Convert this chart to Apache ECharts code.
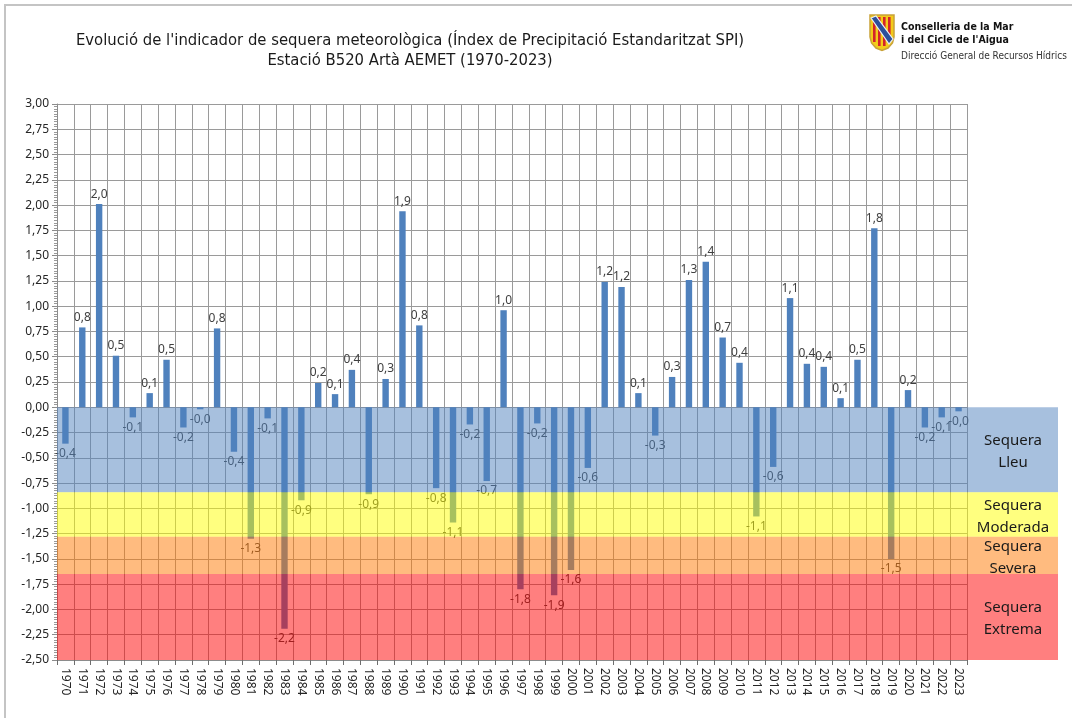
<!DOCTYPE html>
<html>
<head>
<meta charset="utf-8">
<script src="https://cdn.jsdelivr.net/npm/echarts@6/dist/echarts.min.js"></script>
<style>
html, body { margin: 0; padding: 0; background: #fff; }
#chart { width: 1072px; height: 718px; }
</style>
</head>
<body>
<div id="chart"></div>
<script>
// Estacio B520 Arta - SPI anual
var years = ['1970','1971','1972','1973','1974','1975','1976','1977','1978','1979',
  '1980','1981','1982','1983','1984','1985','1986','1987','1988','1989',
  '1990','1991','1992','1993','1994','1995','1996','1997','1998','1999',
  '2000','2001','2002','2003','2004','2005','2006','2007','2008','2009',
  '2010','2011','2012','2013','2014','2015','2016','2017','2018','2019',
  '2020','2021','2022','2023'];

var spi = [-0.36, 0.79, 2.01, 0.51, -0.10, 0.14, 0.47, -0.20, -0.02, 0.78,
  -0.44, -1.30, -0.11, -2.19, -0.92, 0.24, 0.13, 0.37, -0.86, 0.28,
  1.94, 0.81, -0.80, -1.14, -0.17, -0.73, 0.96, -1.80, -0.16, -1.86,
  -1.61, -0.60, 1.24, 1.19, 0.14, -0.28, 0.30, 1.26, 1.44, 0.69,
  0.44, -1.08, -0.59, 1.08, 0.43, 0.40, 0.09, 0.47, 1.77, -1.50,
  0.17, -0.20, -0.10, -0.04];

// llindars de sequera
var bandTop = [0, -0.84, -1.28, -1.65];
var bandBottom = [-0.84, -1.28, -1.65, -2.5];
var bandNames = ['Sequera\nLleu', 'Sequera\nModerada', 'Sequera\nSevera', 'Sequera\nExtrema'];

var bandFill = ['rgba(79,129,189,0.5)', 'rgba(255,255,0,0.5)', 'rgba(255,120,0,0.5)', 'rgba(255,0,0,0.5)'];
var font = "'Noto Sans', 'Open Sans', sans-serif";
var narrow = "'Liberation Sans Narrow', 'DejaVu Sans Condensed', sans-serif";

function fmt1(v) { return v.toFixed(1).replace('.', ','); }

var barData = spi.map(function (v) {
  return { value: v, label: { position: v < 0 ? 'bottom' : 'top' } };
});

var bandData = bandTop.map(function (t, i) { return [0, t, bandBottom[i]]; });

var chart = echarts.init(document.getElementById('chart'));
chart.setOption({
  animation: false,
  backgroundColor: '#fff',
  grid: { left: 57, right: 105, top: 104, bottom: 58 },
  xAxis: {
    type: 'category',
    data: years,
    axisLine: { onZero: false, lineStyle: { color: '#8c8c8c' } },
    axisTick: { show: true, interval: 0, length: 5, lineStyle: { color: '#6e6e6e' } },
    axisLabel: { interval: 0, rotate: -90, fontSize: 12, color: '#262626', fontFamily: font, margin: 8 },
    splitLine: { show: true, interval: 0, lineStyle: { color: '#9a9a9a', width: 1 } }
  },
  yAxis: {
    type: 'value',
    min: -2.5,
    max: 3,
    interval: 0.25,
    axisLine: { show: true, lineStyle: { color: '#8c8c8c' } },
    axisTick: { show: true, length: 5, lineStyle: { color: '#8c8c8c' } },
    minorTick: { show: true, splitNumber: 10, length: 3, lineStyle: { color: '#9a9a9a' } },
    axisLabel: {
      fontSize: 12, color: '#262626', fontFamily: font, margin: 8,
      formatter: function (v) { return v.toFixed(2).replace('.', ','); }
    },
    splitLine: { show: true, lineStyle: { color: '#9a9a9a', width: 1 } }
  },
  series: [
    {
      type: 'bar',
      z: 2,
      data: barData,
      barWidth: '38%',
      itemStyle: { color: '#4f81bd' },
      label: {
        show: true, distance: 4, fontSize: 12, color: '#404040', fontFamily: font,
        formatter: function (p) { return fmt1(p.value); }
      }
    },
    {
      type: 'custom',
      z: 10,
      silent: true,
      encode: { x: 0, y: [1, 2] },
      data: bandData,
      renderItem: function (params, api) {
        var cs = params.coordSys;
        var y0 = api.coord([0, api.value(1)])[1];
        var y1 = api.coord([0, api.value(2)])[1];
        var right = cs.x + cs.width + 91;
        return {
          type: 'group',
          children: [
            {
              type: 'rect',
              shape: { x: cs.x, y: y0, width: right - cs.x, height: y1 - y0 },
              style: { fill: bandFill[params.dataIndex] }
            },
            {
              type: 'text',
              style: {
                x: cs.x + cs.width + 46, y: (y0 + y1) / 2 + 2,
                text: bandNames[params.dataIndex],
                align: 'center', verticalAlign: 'middle',
                fontSize: 15, lineHeight: 22, fontFamily: font, fill: '#1a1a1a'
              }
            }
          ]
        };
      }
    }
  ],
  graphic: [
    { type: 'rect', shape: { x: 5, y: 5, width: 1100, height: 760 }, style: { fill: null, stroke: '#c4c4c4', lineWidth: 2 }, silent: true },
    { type: 'text', style: { x: 410, y: 41, text: "Evolució de l'indicador de sequera meteorològica (Índex de Precipitació Estandaritzat SPI)", align: 'center', verticalAlign: 'middle', fontSize: 16.5, fontFamily: narrow, fill: '#1a1a1a' } },
    { type: 'text', style: { x: 410, y: 61, text: 'Estació B520 Artà AEMET (1970-2023)', align: 'center', verticalAlign: 'middle', fontSize: 16.5, fontFamily: narrow, fill: '#1a1a1a' } },
    {
      type: 'group', x: 870, y: 15,
      children: [
        { type: 'polygon', shape: { points: [[0, 0], [24, 0], [24, 22], [22.5, 28], [18, 33], [12, 35.5], [6, 33], [1.5, 28], [0, 22]] }, style: { fill: '#f3cb1a', stroke: '#c9a23a', lineWidth: 1.5 } },
        { type: 'rect', shape: { x: 3, y: 2, width: 2.6, height: 25 }, style: { fill: '#d4232a' } },
        { type: 'rect', shape: { x: 8, y: 2, width: 2.6, height: 29 }, style: { fill: '#d4232a' } },
        { type: 'rect', shape: { x: 13, y: 2, width: 2.6, height: 29 }, style: { fill: '#d4232a' } },
        { type: 'rect', shape: { x: 18, y: 2, width: 2.6, height: 25 }, style: { fill: '#d4232a' } },
        { type: 'polygon', shape: { points: [[1, 3], [6, 1], [23, 24], [19, 29]] }, style: { fill: '#2c4f9a', stroke: '#e8eef8', lineWidth: 1.2 } }
      ]
    },
    { type: 'text', style: { x: 901, y: 27, text: 'Conselleria de la Mar', verticalAlign: 'middle', fontSize: 10.5, fontWeight: 'bold', fontFamily: narrow, fill: '#111' } },
    { type: 'text', style: { x: 901, y: 40, text: "i del Cicle de l'Aigua", verticalAlign: 'middle', fontSize: 10.5, fontWeight: 'bold', fontFamily: narrow, fill: '#111' } },
    { type: 'text', style: { x: 901, y: 56, text: 'Direcció General de Recursos Hídrics', verticalAlign: 'middle', fontSize: 10, fontFamily: narrow, fill: '#333' } }
  ]
});
</script>
</body>
</html>
